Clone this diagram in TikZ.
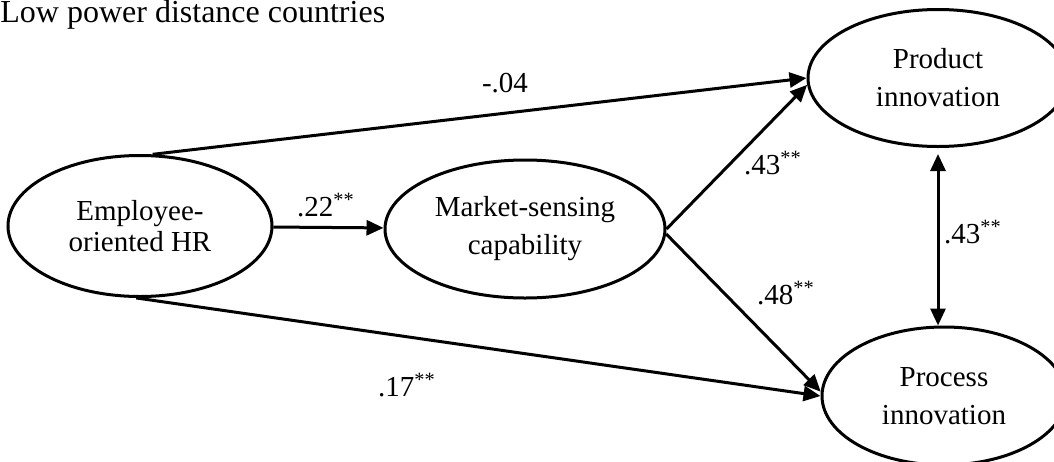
\documentclass[tikz,border=0pt]{standalone}
\usepackage{fontspec}
\setmainfont{Liberation Serif}
\usetikzlibrary{arrows.meta,positioning,shapes.geometric}

\begin{document}
\begin{tikzpicture}[
  x=0.5pt, y=-0.5pt,
  construct/.style={draw, ellipse, line width=1.5pt, inner sep=0pt, align=center, font=\fontsize{14.5}{19}\selectfont},
  coef/.style={inner sep=0pt, font=\fontsize{14.5}{17}\selectfont},
  arrow/.style={-{Triangle[length=8.5pt, width=7.5pt]}, line width=1.5pt},
  both/.style={{Triangle[length=8.5pt, width=7.5pt]}-{Triangle[length=8.5pt, width=7.5pt]}, line width=1.5pt}
]
\useasboundingbox (0,0) rectangle (1054,461);

\node[anchor=base west, inner sep=0pt, font=\fontsize{16}{19}\selectfont] (title) at (0,22) {Low power distance countries};

\node[construct, minimum width=132pt, minimum height=70.5pt, font=\fontsize{14.5}{15.5}\selectfont] (hr) at (140,226) {Employee-\\oriented HR};
\node[construct, minimum width=140pt, minimum height=69pt] (sensing) at (525,229) {Market-sensing\\capability};
\node[construct, minimum width=130pt, minimum height=68.5pt] (product) at (938,78) {Product\\innovation};
\node[construct, minimum width=122pt, minimum height=69pt] (process) at (944,396) {Process\\innovation};

\draw[arrow] (hr.80) -- (product.west);
\draw[arrow] (hr) -- (sensing);
\draw[arrow] (hr.-93) -- (process.west);
\draw[arrow] (sensing.east) -- (product.183);
\draw[arrow] (sensing.-2) -- (process.178);
\draw[both, shorten <=3pt] (product.south) -- (product.south |- process.north);

\node[coef] (c1) at (505,83) {-.04};
\node[coef] (c2) at (326,205) {.22\textsuperscript{**}};
\node[coef] (c3) at (773,163) {.43\textsuperscript{**}};
\node[coef] (c4) at (786,293) {.48\textsuperscript{**}};
\node[coef] (c5) at (973,232) {.43\textsuperscript{**}};
\node[coef] (c6) at (407,385) {.17\textsuperscript{**}};
\end{tikzpicture}
\end{document}
